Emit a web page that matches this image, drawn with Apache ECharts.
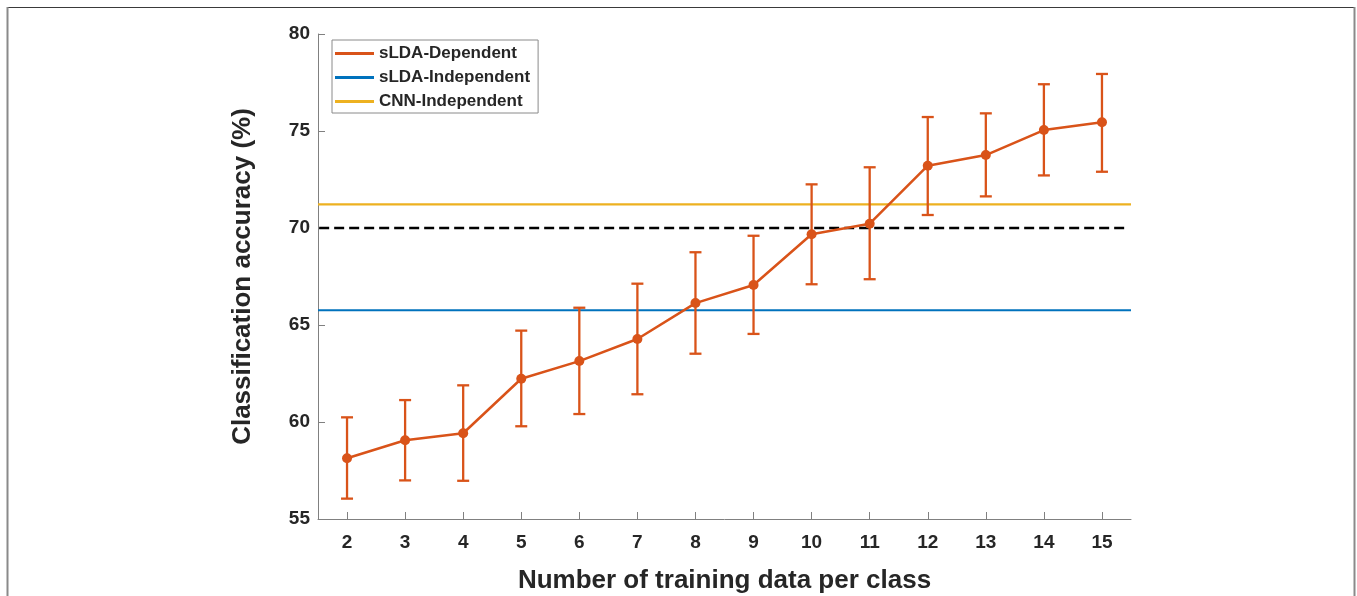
<!DOCTYPE html>
<html>
<head>
<meta charset="utf-8">
<title>Classification accuracy vs training data</title>
<script src="https://cdn.jsdelivr.net/npm/echarts@6/dist/echarts.min.js"></script>
<style>
  html, body { margin: 0; padding: 0; background: #ffffff; }
  #chart { width: 1357px; height: 596px; }
</style>
</head>
<body>
<div id="chart"></div>
<script>
// Number of training samples per class
const xTicks = [2, 3, 4, 5, 6, 7, 8, 9, 10, 11, 12, 13, 14, 15];
const yTicks = [55, 60, 65, 70, 75, 80];

// sLDA-Dependent: mean accuracy and error bar bounds (%)
const accMean  = [58.13, 59.06, 59.42, 62.23, 63.14, 64.28, 66.13, 67.06, 69.68, 70.22, 73.21, 73.76, 75.05, 75.45];
const accUpper = [60.24, 61.13, 61.89, 64.71, 65.89, 67.13, 68.75, 69.60, 72.25, 73.13, 75.72, 75.91, 77.41, 77.94];
const accLower = [56.05, 56.99, 56.97, 59.78, 60.41, 61.43, 63.52, 64.54, 67.10, 67.36, 70.67, 71.63, 72.71, 72.90];

// Reference levels (%)
const sldaIndependent = 65.76;
const cnnIndependent = 71.22;
const threshold = 70;

const xRange = [1.5, 15.5];

const seriesNames = ['sLDA-Dependent', 'sLDA-Independent', 'CNN-Independent'];
const colors = { dep: '#D95319', ind: '#0072BD', cnn: '#EDB120' };

const FONT = '"Liberation Sans", Arial, Helvetica, sans-serif';
const TEXT = '#262626';
const AXIS = '#808080';

const chart = echarts.init(document.getElementById('chart'), null, { renderer: 'canvas' });

function flatLine(v) {
  return [[xRange[0], v], [xRange[1], v]];
}

const option = {
  backgroundColor: '#ffffff',
  animation: false,
  textStyle: { fontFamily: FONT },
  graphic: [
    { type: 'line', shape: { x1: 7, y1: 7.5, x2: 1355, y2: 7.5 }, style: { stroke: '#3a3a3a', lineWidth: 1.2 }, silent: true },
    { type: 'line', shape: { x1: 7.5, y1: 7, x2: 7.5, y2: 596 }, style: { stroke: '#8a8a8a', lineWidth: 2 }, silent: true },
    { type: 'line', shape: { x1: 1354.5, y1: 7, x2: 1354.5, y2: 596 }, style: { stroke: '#8a8a8a', lineWidth: 2 }, silent: true }
  ],
  grid: { left: 318, right: 226, top: 34, bottom: 77, containLabel: false, outerBoundsMode: 'none' },
  legend: {
    data: seriesNames,
    orient: 'vertical',
    left: 332,
    top: 40,
    icon: 'rect',
    itemWidth: 39,
    itemHeight: 3,
    itemGap: 7,
    padding: [5, 8, 3, 3],
    borderColor: '#8a8a8a',
    borderWidth: 1,
    backgroundColor: '#ffffff',
    textStyle: { fontFamily: FONT, fontSize: 17, fontWeight: 'bold', color: TEXT }
  },
  xAxis: {
    type: 'value',
    min: xRange[0],
    max: xRange[1],
    name: 'Number of training data per class',
    nameLocation: 'middle',
    nameGap: 49,
    nameTextStyle: { fontFamily: FONT, fontSize: 26, fontWeight: 'bold', color: TEXT },
    axisLine: { onZero: false, lineStyle: { color: AXIS, width: 1 } },
    axisTick: { inside: true, length: 7, customValues: xTicks, lineStyle: { color: AXIS } },
    axisLabel: { customValues: xTicks, margin: 14, fontFamily: FONT, fontSize: 19, fontWeight: 'bold', color: TEXT },
    splitLine: { show: false }
  },
  yAxis: {
    type: 'value',
    min: 55,
    max: 80,
    interval: 5,
    name: 'Classification accuracy (%)',
    nameLocation: 'middle',
    nameGap: 62,
    nameTextStyle: { fontFamily: FONT, fontSize: 26, fontWeight: 'bold', color: TEXT },
    axisLine: { show: true, lineStyle: { color: AXIS, width: 1 } },
    axisTick: { show: true, inside: true, length: 7, lineStyle: { color: AXIS } },
    axisLabel: { margin: 8, fontFamily: FONT, fontSize: 19, fontWeight: 'bold', color: TEXT,
      formatter: v => (yTicks.indexOf(v) >= 0 ? String(v) : '') },
    splitLine: { show: false }
  },
  series: [
    {
      name: 'sLDA-Independent',
      type: 'line',
      data: flatLine(sldaIndependent),
      symbol: 'none',
      lineStyle: { color: colors.ind, width: 2.2 },
      itemStyle: { color: colors.ind },
      z: 2
    },
    {
      name: 'CNN-Independent',
      type: 'line',
      data: flatLine(cnnIndependent),
      symbol: 'none',
      lineStyle: { color: colors.cnn, width: 2.2 },
      itemStyle: { color: colors.cnn },
      z: 2
    },
    {
      name: 'threshold',
      type: 'line',
      data: [[xRange[0] + 0.02, threshold], [xRange[1] - 0.08, threshold]],
      symbol: 'none',
      lineStyle: { color: '#000000', width: 2.5, type: [10, 5] },
      z: 2
    },
    {
      name: 'errorbars',
      type: 'custom',
      data: xTicks.map((x, i) => [x, accLower[i], accUpper[i]]),
      encode: { x: 0, y: [1, 2] },
      z: 3,
      renderItem: function (params, api) {
        const x = api.value(0);
        const lo = api.coord([x, api.value(1)]);
        const hi = api.coord([x, api.value(2)]);
        const half = 6;
        const style = { stroke: colors.dep, lineWidth: 2.3 };
        return {
          type: 'group',
          children: [
            { type: 'line', shape: { x1: lo[0], y1: lo[1], x2: hi[0], y2: hi[1] }, style },
            { type: 'line', shape: { x1: lo[0] - half, y1: lo[1], x2: lo[0] + half, y2: lo[1] }, style },
            { type: 'line', shape: { x1: hi[0] - half, y1: hi[1], x2: hi[0] + half, y2: hi[1] }, style }
          ]
        };
      }
    },
    {
      name: 'sLDA-Dependent',
      type: 'line',
      data: xTicks.map((x, i) => [x, accMean[i]]),
      symbol: 'circle',
      symbolSize: 10,
      lineStyle: { color: colors.dep, width: 2.5 },
      itemStyle: { color: colors.dep },
      z: 4
    }
  ]
};

chart.setOption(option);
</script>
</body>
</html>
